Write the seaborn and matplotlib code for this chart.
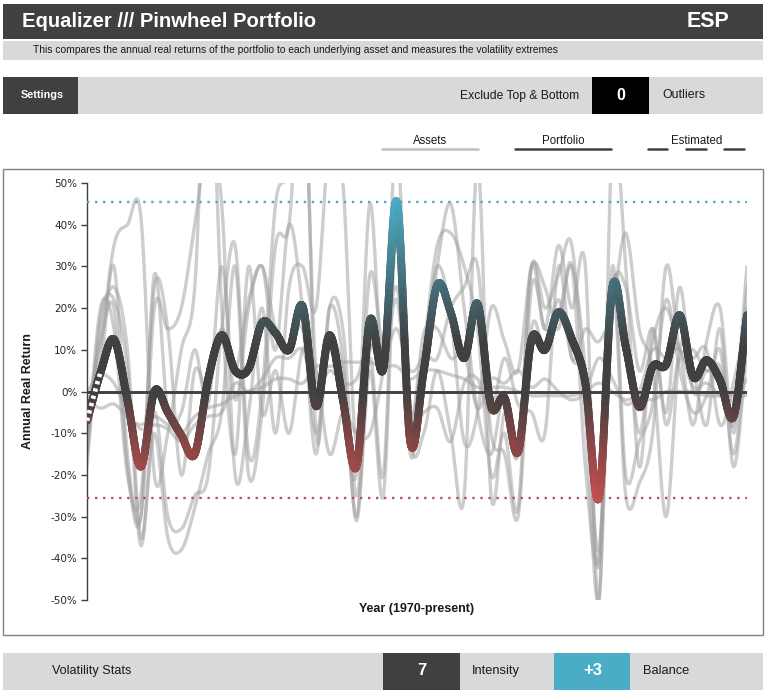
import numpy as np
import pandas as pd
import matplotlib
matplotlib.use("Agg")
import matplotlib.pyplot as plt
import seaborn as sns
from matplotlib.collections import LineCollection
from matplotlib.colors import LinearSegmentedColormap, Normalize
from matplotlib.patches import Rectangle
from matplotlib.lines import Line2D

# ---------------- data ----------------
years = list(range(1970, 2020))
estimated_until = 1971  # portfolio values up to this year are estimated

portfolio = [-7, 4.5, 12.5, -2, -18, 0, -5, -10.5, -15, 3,
             13.5, 5, 5.5, 16.5, 14, 10, 20.5, -3.5, 13.5, -2,
             -18, 17, 5.5, 45.5, -12, 5, 25.5, 19, 8, 21,
             -3.5, -1.5, -14.5, 12.5, 10, 19, 12.5, 2, -25.5, 25,
             10.7, -3.7, 6, 6.5, 18.3, 3.5, 7.5, 2.7, -6, 18.3]

large_cap = [-15, 15, 25, 10, -35, -10, -35, -38, -28, -15,
             -5, 30, -20, -5, 35, 40, 80, 5, 12, 5,
             -30, 8, -20, 45, -15, 10, 35, 38, 30, 15,
             -20, -10, -28, 25, 15, 18, 30, 5, -42, 30,
             -20, -12, -3, 22, 5, -5, -1, 10, -15, 12]
small_value = [-18, 18, 22, 5, -37, -5, -30, -33, -25, -20,
               15, 35, -15, 0, 45, 55, 100, -10, 20, 8,
               -31, 5, -25, 40, -10, 5, 30, 45, 20, -5,
               -15, 0, -15, 30, 20, 28, 35, -5, -50, 25,
               -25, -22, -10, 30, 10, 5, -8, 15, -18, 10]
intl_dev = [-5, 12, 20, -18, -30, 28, -5, -5, 10, -3,
            30, -2, 20, 30, 10, 40, 20, -15, 20, 15,
            -25, 10, 5, 35, -5, 8, 8, 20, 25, 30,
            -10, -15, -30, 15, 10, 22, 8, 2, -38, 25,
            15, -10, 12, 20, 10, 10, 5, 6, -8, 25]
emerging = [-10, 5, 30, -15, -30, 20, 15, 20, 40, 60,
            45, -20, -5, 20, -10, 25, 30, 20, 60, 50,
            -12, 45, 5, 60, -10, -10, 5, -10, -25, 55,
            -25, -5, -15, 30, 15, 35, 20, 30, -50, 60,
            30, -18, 15, -8, 8, -8, 12, 20, -10, 20]
int_bonds = [0, 4, 2, -5, -9, -8, -9, -12, -8, -6,
             -5, 2, 0, 3, 8, 8, 10, 0, 5, 2,
             3, 12, 5, 22, -8, 14, 15, 8, 9, -4,
             3, 2, 5, 1, 3, 0, -2, 0, 8, 3,
             -3, 0, 10, 8, 10, 1, 2, -1, -2, 3]
t_bills = [-2, -4, -3, -6, -8, -6, -8, -10, -6, -4,
           -3, -1, 0, 1, 3, 3, 2, 6, 6, 7,
           7, 7, 6, 6, 3, 5, 5, 4, 3, 1,
           1, 1, 0, -1, -1, -1, -1, 0, 2, 0,
           -2, -1, -2, 0, 0, 0, -1, -1, -1, -1]
reits = [-15, 20, 15, -20, -25, 25, 15, -20, 5, 0,
         15, 5, 22, 30, 15, 10, 15, -10, 10, -5,
         -20, 28, 10, 15, 5, 10, 30, 18, -12, -5,
         20, 12, 5, 30, 25, 15, 30, -18, -40, 22,
         25, 5, 15, -5, 25, 0, 5, 2, -6, 30]
gold = [-10, 10, 35, 40, 42, -20, -10, 10, 25, 90,
        20, -15, 30, -5, 5, -10, 10, 5, -15, -5,
        -10, -10, 5, 25, -8, -5, -4, -12, 2, 3,
        -5, 8, -3, -5, -10, 30, 8, 15, 12, 20,
        38, 15, 5, -30, 10, 8, 10, -8, 2, 18]

asset_names = ["Large Cap", "Small Cap Value", "Intl Developed", "Emerging",
               "Intermediate Bonds", "T-Bills", "REITs", "Gold"]
asset_values = [large_cap, small_value, intl_dev, emerging,
                int_bonds, t_bills, reits, gold]

intensity_label = "7"
balance_label = "+3"

# ---------------- helpers ----------------
def smooth(xs, ys, n=24):
    P = np.column_stack([np.asarray(xs, float), np.asarray(ys, float)])
    P = np.vstack([2 * P[0] - P[1], P, 2 * P[-1] - P[-2]])
    out = []
    t = np.linspace(0, 1, n, endpoint=False)[:, None]
    for i in range(1, len(P) - 2):
        p0, p1, p2, p3 = P[i - 1], P[i], P[i + 1], P[i + 2]
        seg = 0.5 * ((2 * p1) + (-p0 + p2) * t + (2 * p0 - 5 * p1 + 4 * p2 - p3) * t ** 2
                     + (-p0 + 3 * p1 - 3 * p2 + p3) * t ** 3)
        out.append(seg)
    out.append(P[-2][None, :])
    return np.vstack(out)

sns.set_theme(style="white")
plt.rcParams["font.family"] = ["Liberation Sans", "DejaVu Sans"]

W, H = 770, 695
fig = plt.figure(figsize=(W / 100, H / 100), dpi=100)
fig.patch.set_facecolor("white")

def box(x0, y0, x1, y1, fc, ec="none", lw=0, z=-5):
    fig.patches.append(Rectangle((x0 / W, 1 - y1 / H), (x1 - x0) / W, (y1 - y0) / H,
                                 transform=fig.transFigure, facecolor=fc, edgecolor=ec,
                                 linewidth=lw, zorder=z))

def txt(x, y, s, **kw):
    kw.setdefault("va", "center")
    fig.text(x / W, 1 - y / H, s, **kw)

def hline(x0, x1, y, color, lw=1.5, **kw):
    fig.add_artist(Line2D([x0 / W, x1 / W], [1 - y / H, 1 - y / H], color=color,
                          lw=lw, transform=fig.transFigure, **kw))

DARK = "#404040"
LIGHT = "#d9d9d9"
TEAL = "#4bacc6"
RED = "#c0504d"

# header
box(3, 4, 763, 39, DARK)
txt(22, 21.5, "Equalizer /// Pinwheel Portfolio", color="white", fontsize=14.6, fontweight="bold")
txt(729, 21.5, "ESP", color="white", fontsize=15.5, fontweight="bold", ha="right")
box(3, 41, 763, 60, LIGHT)
txt(33, 50, "This compares the annual real returns of the portfolio to each underlying asset and measures the volatility extremes",
    color="#1a1a1a", fontsize=7.4)

# settings bar
box(3, 77, 763, 114, LIGHT)
box(3, 77, 78, 114, DARK)
txt(42, 95.5, "Settings", color="white", fontsize=7.8, fontweight="bold", ha="center")
txt(579, 96, "Exclude Top & Bottom", color="#1a1a1a", fontsize=8.7, ha="right")
box(592, 77, 649, 114, "#000000")
txt(620.5, 95, "0", color="white", fontsize=11.5, fontweight="bold", ha="center")
txt(662, 95, "Outliers", color="#1a1a1a", fontsize=8.9)

# legend row
txt(430, 141.5, "Assets", color="#1a1a1a", fontsize=8.3, ha="center")
hline(382, 478, 149, "#bfbfbf", lw=1.8)
txt(563, 141, "Portfolio", color="#1a1a1a", fontsize=8.3, ha="center")
hline(515, 611, 148.5, DARK, lw=1.8)
txt(697, 141.5, "Estimated", color="#1a1a1a", fontsize=8.3, ha="center")
for a, b in [(648, 667), (686, 706), (724, 744)]:
    hline(a, b, 148.5, DARK, lw=1.8)

# plot frame
box(3, 169, 763, 635, "white", ec="#808080", lw=1.0)

# bottom stats bar
box(3, 653, 763, 690, LIGHT)
txt(52, 671, "Volatility Stats", color="#1a1a1a", fontsize=9.1)
box(383, 653, 460, 690, DARK)
txt(421.5, 670.5, intensity_label, color="white", fontsize=12, fontweight="bold", ha="center")
txt(472, 671, "Intensity", color="#1a1a1a", fontsize=9.3)
box(554, 653, 630, 690, TEAL)
txt(593, 670.5, balance_label, color="white", fontsize=12, fontweight="bold", ha="center")
txt(643, 671, "Balance", color="#1a1a1a", fontsize=9.3)

# ---------------- axes ----------------
ax = fig.add_axes([87 / W, 1 - 600 / H, (747 - 87) / W, (600 - 183) / H])
ax.set_zorder(5)
ax.set_facecolor("none")

rows = []
for name, vals in zip(asset_names, asset_values):
    sm = smooth(years, vals)
    rows.append(pd.DataFrame({"year": sm[:, 0], "ret": sm[:, 1], "asset": name}))
assets_df = pd.concat(rows, ignore_index=True)
sns.lineplot(data=assets_df, x="year", y="ret", units="asset", estimator=None, sort=False,
             color="#a0a0a0", alpha=0.52, lw=2.4, ax=ax, zorder=2, legend=False)

ax.axhline(0, color=DARK, lw=2.1, zorder=3)

pmax, pmin = max(portfolio), min(portfolio)
ax.axhline(pmax, color=TEAL, lw=1.7, ls=(0, (1, 2.4)), zorder=3)
ax.axhline(pmin, color=RED, lw=1.7, ls=(0, (1, 2.4)), zorder=3)

PLW = 5.6
psm = smooth(years, portfolio, n=40)
pdf = pd.DataFrame({"year": psm[:, 0], "ret": psm[:, 1]})
sns.lineplot(data=pdf, x="year", y="ret", estimator=None, sort=False, color=DARK,
             lw=PLW, ax=ax, zorder=4, legend=False, solid_capstyle="round")

norm = Normalize(pmin, pmax)
f0 = norm(0.0)
f1 = norm(11.0)
cmap = LinearSegmentedColormap.from_list(
    "pf", [(0.0, RED), (f0 * 0.45, "#8e4646"), (f0, DARK), (f1, DARK), (1.0, TEAL)])
pts = psm.reshape(-1, 1, 2)
segs = np.concatenate([pts[:-1], pts[1:]], axis=1)
mids = 0.5 * (psm[:-1, 1] + psm[1:, 1])
lc = LineCollection(segs, colors=cmap(norm(mids)), linewidths=PLW, capstyle="round",
                    joinstyle="round", zorder=5)
ax.add_collection(lc)

est = psm[psm[:, 0] <= estimated_until]
ax.plot(est[:, 0], est[:, 1], color="white", lw=3.4, ls=(0, (0.7, 0.9)), zorder=6,
        solid_capstyle="butt")

ax.set_xlim(years[0], years[-1])
ax.set_ylim(-50, 50)
ax.set_yticks(range(-50, 51, 10))
ax.set_yticklabels([f"{v}%" for v in range(-50, 51, 10)], fontfamily="DejaVu Sans",
                   fontsize=7.5, color="#262626")
ax.set_xticks([])
ax.set_xlabel("")
ax.set_ylabel("")
for s in ["top", "right", "bottom"]:
    ax.spines[s].set_visible(False)
ax.spines["left"].set_color("#404040")
ax.spines["left"].set_linewidth(1.0)
ax.tick_params(axis="y", which="major", left=True, length=4, width=1, color="#404040", pad=3)

txt(28, 391, "Annual Real Return", rotation=90, ha="center", fontsize=9, fontweight="bold",
    color="#1a1a1a")
txt(417, 609, "Year (1970-present)", ha="center", fontsize=9, fontweight="bold", color="#1a1a1a")

fig.savefig("out.png", dpi=100)
